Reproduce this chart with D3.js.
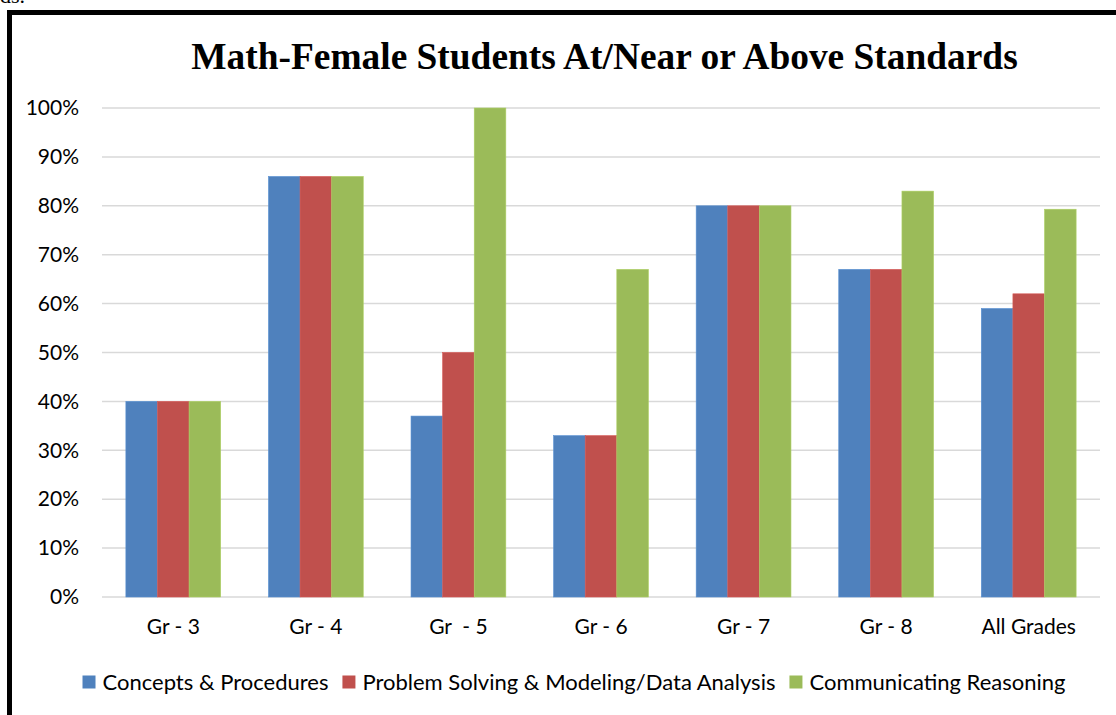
<!DOCTYPE html>
<html>
<head>
<meta charset="utf-8">
<script src="https://cdn.jsdelivr.net/npm/d3@7"></script>
<style>
  body { margin: 0; background: #fff; }
  svg { display: block; }
</style>
</head>
<body>
<div id="chart"></div>
<script>
// size of SVG
var w = 1116;
var h = 715;

// chart data
var categories = ["Gr - 3", "Gr - 4", "Gr  - 5", "Gr - 6", "Gr - 7", "Gr - 8", "All Grades"];
var series = ["Concepts & Procedures", "Problem Solving & Modeling/Data Analysis", "Communicating Reasoning"];
var concepts = [40, 86, 37, 33, 80, 67, 59];
var problem = [40, 86, 50, 33, 80, 67, 62];
var reasoning = [40, 86, 100, 67, 80, 83, 79.3];
var yTicks = [0, 10, 20, 30, 40, 50, 60, 70, 80, 90, 100];
var colors = ["#4f81bd", "#c0504d", "#9bbb59"];
var title = "Math-Female Students At/Near or Above Standards";

var values = [concepts, problem, reasoning];

// plot area (don't call these top/left, window.top is read only)
var plotLeft = 102, plotRight = 1100, plotTop = 108, plotBottom = 597;
var labelFont = "Lato, 'Open Sans', sans-serif";

var svg = d3.select("#chart")
  .append("svg")
  .attr("width", w)
  .attr("height", h)
  .attr("xmlns", "http://www.w3.org/2000/svg");

// leftover text from the page above the chart
svg.append("text")
  .attr("x", 0)
  .attr("y", 3)
  .attr("font-family", "'Liberation Serif', serif")
  .attr("font-size", 22)
  .text("ds.");

// frame (only top and left edge are inside the picture)
svg.append("path")
  .attr("d", "M9.5," + (h + 5) + " V12.5 H" + (w + 5))
  .attr("fill", "none")
  .attr("stroke", "#000")
  .attr("stroke-width", 5);

// title
svg.append("text")
  .attr("x", 604.5)
  .attr("y", 69)
  .attr("text-anchor", "middle")
  .attr("font-family", "'Liberation Serif', 'Times New Roman', serif")
  .attr("font-weight", "bold")
  .attr("font-size", 37.4)
  .attr("fill", "#000")
  .text(title);

// scales
var y = d3.scaleLinear().domain([0, 100]).range([plotBottom, plotTop]);
var x0 = d3.scaleBand()
  .domain(categories)
  .range([plotLeft, plotRight])
  .paddingInner(0.335)
  .paddingOuter(0.1675);
var x1 = d3.scaleBand()
  .domain(d3.range(series.length))
  .range([0, x0.bandwidth()]);

// gridlines
svg.append("g")
  .selectAll("line")
  .data(yTicks)
  .enter().append("line")
  .attr("x1", plotLeft)
  .attr("x2", plotRight)
  .attr("y1", function(d) { return y(d); })
  .attr("y2", function(d) { return y(d); })
  .attr("stroke", "#d9d9d9")
  .attr("stroke-width", 1.5);

// y axis labels
var yAxis = d3.axisLeft(y)
  .tickValues(yTicks)
  .tickSize(0)
  .tickPadding(23)
  .tickFormat(function(d) { return d + "%"; });
var gy = svg.append("g")
  .attr("transform", "translate(" + plotLeft + ",0)")
  .call(yAxis);
gy.select(".domain").remove();
gy.selectAll("text")
  .attr("font-family", labelFont)
  .attr("font-size", 21)
  .attr("fill", "#000");

// bars
var groups = svg.append("g")
  .selectAll("g")
  .data(categories)
  .enter().append("g")
  .attr("transform", function(d) { return "translate(" + x0(d) + ",0)"; });

groups.selectAll("rect")
  .data(function(d, i) { return values.map(function(v, s) { return { s: s, v: v[i] }; }); })
  .enter().append("rect")
  .attr("x", function(d) { return x1(d.s); })
  .attr("width", x1.bandwidth())
  .attr("y", function(d) { return y(d.v); })
  .attr("height", function(d) { return y(0) - y(d.v); })
  .attr("fill", function(d) { return colors[d.s]; })
  .attr("stroke", function(d) { return d3.color(colors[d.s]).brighter(0.3); })
  .attr("stroke-width", 0.6);

// x axis
var xAxis = d3.axisBottom(x0).tickSize(0).tickPadding(22);
var gx = svg.append("g")
  .attr("transform", "translate(0," + plotBottom + ")")
  .call(xAxis);
gx.select(".domain").remove();
gx.selectAll("text")
  .attr("font-family", labelFont)
  .attr("font-size", 21)
  .attr("fill", "#000")
  .style("white-space", "pre");

// legend
var legend = svg.append("g");
var items = legend.selectAll("g")
  .data(series)
  .enter().append("g");
items.append("rect")
  .attr("width", 13)
  .attr("height", 13)
  .attr("y", -6.5)
  .attr("fill", function(d, i) { return colors[i]; });
items.append("text")
  .attr("x", 20)
  .attr("dy", "0.35em")
  .attr("font-family", labelFont)
  .attr("font-size", 22)
  .attr("fill", "#000")
  .text(function(d) { return d; });

var pos = 0, offsets = [];
items.each(function() {
  offsets.push(pos);
  pos += 20 + d3.select(this).select("text").node().getComputedTextLength() + 14;
});
var total = pos - 14;
var startX = 574 - total / 2;
items.attr("transform", function(d, i) { return "translate(" + (startX + offsets[i]) + ",682)"; });
</script>
</body>
</html>
